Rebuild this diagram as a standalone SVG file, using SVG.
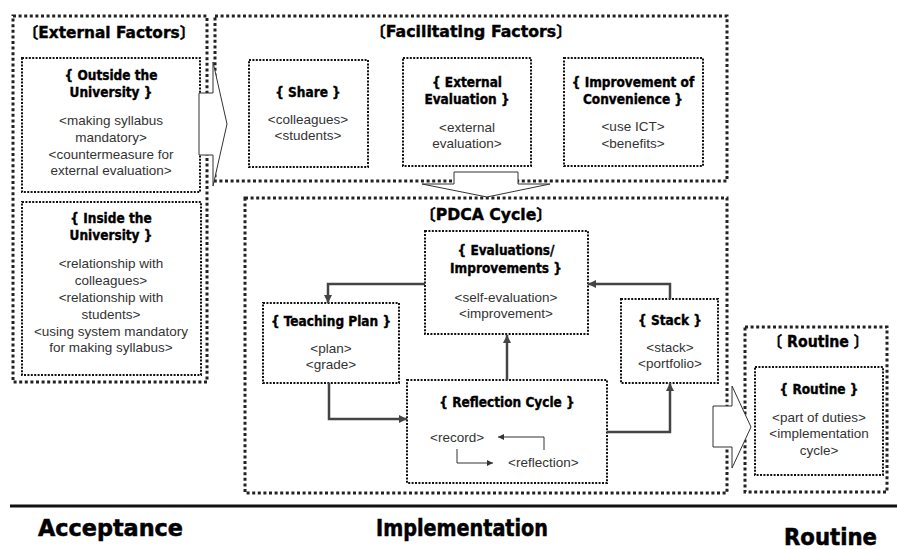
<svg xmlns="http://www.w3.org/2000/svg" width="897" height="549" viewBox="0 0 897 549">
  <defs>
    <style>
      .outer { fill: none; stroke: #222; stroke-width: 3; stroke-dasharray: 3 2.6; }
      .inner { fill: none; stroke: #111; stroke-width: 2; stroke-dasharray: 2 1.4; }
      .title { font-family: "DejaVu Sans", "Noto Sans CJK JP", sans-serif; font-weight: bold; font-size: 15.5px; fill: #000; stroke: #000; stroke-width: 0.4; }
      .head { font-family: "DejaVu Sans Condensed", "DejaVu Sans", sans-serif; font-weight: bold; font-size: 13.5px; text-anchor: middle; fill: #000; stroke: #000; stroke-width: 0.35; }
      .body { font-family: "Liberation Sans", Arial, sans-serif; font-size: 13.5px; text-anchor: middle; fill: #333; }
      .bodyl { font-family: "Liberation Sans", Arial, sans-serif; font-size: 13.5px; fill: #333; }
      .conn { fill: none; stroke: #444; stroke-width: 2.5; }
      .thin { fill: none; stroke: #333; stroke-width: 1; }
      .block { fill: #fff; stroke: #333; stroke-width: 1; }
      .phase { font-family: "DejaVu Sans Condensed", "DejaVu Sans", sans-serif; font-weight: bold; font-size: 23px; fill: #000; stroke: #000; stroke-width: 0.5; }
    </style>
    <marker id="head" markerUnits="userSpaceOnUse" markerWidth="9" markerHeight="8" refX="8" refY="4" orient="auto">
      <path d="M0,0 L8,4 L0,8 z" fill="#444"/>
    </marker>
    <marker id="headSmall" markerUnits="userSpaceOnUse" markerWidth="7" markerHeight="6" refX="6" refY="3" orient="auto">
      <path d="M0,0 L6,3 L0,6 z" fill="#333"/>
    </marker>
  </defs>

  <!-- External factors column -->
  <g id="external-factors">
    <rect class="outer" x="13" y="16" width="194" height="366"/>
    <text class="title" x="23" y="38" textLength="172" lengthAdjust="spacingAndGlyphs">〔External Factors〕</text>
    <g id="outside-university">
      <rect class="inner" x="22" y="58" width="178" height="134"/>
      <text class="head" x="111" y="80">{ Outside the</text>
      <text class="head" x="111" y="97">University }</text>
      <text class="body" x="111" y="125">&lt;making syllabus</text>
      <text class="body" x="111" y="142">mandatory&gt;</text>
      <text class="body" x="111" y="159">&lt;countermeasure for</text>
      <text class="body" x="111" y="175">external evaluation&gt;</text>
    </g>
    <g id="inside-university">
      <rect class="inner" x="22" y="202" width="179" height="173"/>
      <text class="head" x="111" y="223">{ Inside the</text>
      <text class="head" x="111" y="240">University }</text>
      <text class="body" x="111" y="268">&lt;relationship with</text>
      <text class="body" x="111" y="285">colleagues&gt;</text>
      <text class="body" x="111" y="302">&lt;relationship with</text>
      <text class="body" x="111" y="319">students&gt;</text>
      <text class="body" x="111" y="336">&lt;using system mandatory</text>
      <text class="body" x="111" y="352">for making syllabus&gt;</text>
    </g>
  </g>

  <!-- Facilitating factors row -->
  <g id="facilitating-factors">
    <rect class="outer" x="215" y="16" width="512" height="165"/>
    <text class="title" x="370" y="37" textLength="202" lengthAdjust="spacingAndGlyphs">〔Facilitating Factors〕</text>
    <g id="share">
      <rect class="inner" x="249" y="60" width="119" height="107"/>
      <text class="head" x="308" y="97">{ Share }</text>
      <text class="body" x="308" y="124">&lt;colleagues&gt;</text>
      <text class="body" x="308" y="140">&lt;students&gt;</text>
    </g>
    <g id="external-evaluation">
      <rect class="inner" x="403" y="58" width="128" height="108"/>
      <text class="head" x="467" y="87">{ External</text>
      <text class="head" x="467" y="104">Evaluation }</text>
      <text class="body" x="467" y="132">&lt;external</text>
      <text class="body" x="467" y="148">evaluation&gt;</text>
    </g>
    <g id="improvement-of-convenience">
      <rect class="inner" x="564" y="58" width="139" height="108"/>
      <text class="head" x="633" y="87">{ Improvement of</text>
      <text class="head" x="633" y="104">Convenience }</text>
      <text class="body" x="633" y="131">&lt;use ICT&gt;</text>
      <text class="body" x="633" y="148">&lt;benefits&gt;</text>
    </g>
  </g>

  <!-- PDCA cycle -->
  <g id="pdca-cycle">
    <rect class="outer" x="245" y="198" width="482" height="295"/>
    <text class="title" x="420" y="220" textLength="132" lengthAdjust="spacingAndGlyphs">〔PDCA Cycle〕</text>
    <g id="evaluations-improvements">
      <rect class="inner" x="425" y="231" width="163" height="103"/>
      <text class="head" x="506" y="255">{ Evaluations/</text>
      <text class="head" x="506" y="273">Improvements }</text>
      <text class="body" x="506" y="302">&lt;self-evaluation&gt;</text>
      <text class="body" x="506" y="318">&lt;improvement&gt;</text>
    </g>
    <g id="teaching-plan">
      <rect class="inner" x="263" y="303" width="136" height="80"/>
      <text class="head" x="331" y="326">{ Teaching Plan }</text>
      <text class="body" x="331" y="353">&lt;plan&gt;</text>
      <text class="body" x="331" y="369">&lt;grade&gt;</text>
    </g>
    <g id="stack">
      <rect class="inner" x="621" y="299" width="97" height="84"/>
      <text class="head" x="670" y="325">{ Stack }</text>
      <text class="body" x="670" y="352">&lt;stack&gt;</text>
      <text class="body" x="670" y="368">&lt;portfolio&gt;</text>
    </g>
    <g id="reflection-cycle">
      <rect class="inner" x="407" y="380" width="200" height="103"/>
      <text class="head" x="507" y="407">{ Reflection Cycle }</text>
      <text class="bodyl" x="430" y="442">&lt;record&gt;</text>
      <text class="bodyl" x="508" y="467">&lt;reflection&gt;</text>
      <path class="thin" d="M544,450 V437 H498" marker-end="url(#headSmall)"/>
      <path class="thin" d="M457,449 V463 H493" marker-end="url(#headSmall)"/>
    </g>
  </g>

  <!-- Routine -->
  <g id="routine">
    <rect class="outer" x="745" y="327" width="142" height="165"/>
    <text class="title" x="768" y="347" textLength="100" lengthAdjust="spacingAndGlyphs">〔 Routine 〕</text>
    <g id="routine-duties">
      <rect class="inner" x="755" y="367" width="128" height="108"/>
      <text class="head" x="819" y="394">{ Routine }</text>
      <text class="body" x="819" y="422">&lt;part of duties&gt;</text>
      <text class="body" x="819" y="438">&lt;implementation</text>
      <text class="body" x="819" y="455">cycle&gt;</text>
    </g>
  </g>

  <!-- Connectors -->
  <g id="connectors">
    <path class="conn" d="M425,284 H328 V303" marker-end="url(#head)"/>
    <path class="conn" d="M329,383 V419 H407" marker-end="url(#head)"/>
    <path class="conn" d="M507,380 V335" marker-end="url(#head)"/>
    <path class="conn" d="M607,432 H670 V383" marker-end="url(#head)"/>
    <path class="conn" d="M670,299 V284 H588" marker-end="url(#head)"/>
    <polygon class="block" points="199,93 213,93 213,62 227,124 213,186 213,155 199,155"/>
    <polygon class="block" points="454,172 518,172 518,184 550,184 487,197 422,184 454,184"/>
    <polygon class="block" points="713,406 732,406 732,386 751,427 732,468 732,447 713,447"/>
  </g>

  <!-- Phase axis -->
  <g id="phases">
    <line x1="10" y1="506" x2="897" y2="506" stroke="#111" stroke-width="3"/>
    <text class="phase" x="38" y="536" textLength="145" lengthAdjust="spacingAndGlyphs">Acceptance</text>
    <text class="phase" x="376" y="536" textLength="172" lengthAdjust="spacingAndGlyphs">Implementation</text>
    <text class="phase" x="784" y="545" textLength="93" lengthAdjust="spacingAndGlyphs">Routine</text>
  </g>
</svg>
